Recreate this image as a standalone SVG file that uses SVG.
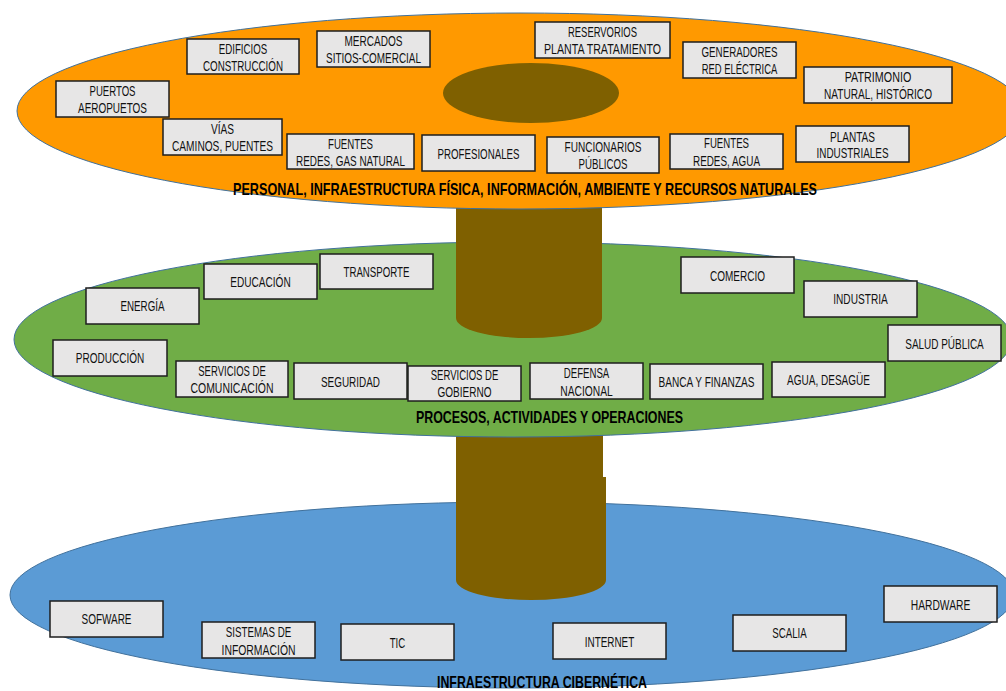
<svg xmlns="http://www.w3.org/2000/svg" width="1006" height="691" viewBox="0 0 1006 691">
<style>
.layer{stroke:#41719C;stroke-width:1}
.col{fill:#7F6000}
.box rect{fill:#E7E6E6;stroke:#1E1E1E;stroke-width:1.5}
.box text{font-family:"Liberation Sans","DejaVu Sans",sans-serif;font-size:14px;fill:#111;text-anchor:middle}
.title{font-family:"Liberation Sans","DejaVu Sans",sans-serif;font-size:16.5px;font-weight:bold;fill:#000;text-anchor:middle}
</style>
<rect width="1006" height="691" fill="#FFFFFF"/>
<g id="layers">
<ellipse id="layer-cyber" class="layer" cx="512" cy="595" rx="502" ry="93" fill="#5B9BD5"/>
<path id="column-lower" class="col" d="M456,430 L456,580 A75,20 0 0 0 606,580 L606,477 L603,477 L603,430 Z"/>
<ellipse id="layer-process" class="layer" cx="513" cy="339.5" rx="499" ry="97.5" fill="#70AD47"/>
<path id="column-upper" class="col" d="M456,100 L456,318 A73,20 0 0 0 602,318 L602,100 Z"/>
<ellipse id="layer-physical" class="layer" cx="520" cy="111" rx="503" ry="98" fill="#FF9900"/>
<ellipse id="column-top" class="col" cx="531" cy="93" rx="88" ry="30"/>
</g>
<g id="connectors"></g>
<g id="n-puertos" class="box"><rect x="56" y="81" width="113" height="36"/><text x="112.5" y="95.5" textLength="46" lengthAdjust="spacingAndGlyphs">PUERTOS</text><text x="112.5" y="113" textLength="69" lengthAdjust="spacingAndGlyphs">AEROPUETOS</text></g>
<g id="n-edificios" class="box"><rect x="187" y="39" width="112" height="35"/><text x="243" y="53.5" textLength="48.5" lengthAdjust="spacingAndGlyphs">EDIFICIOS</text><text x="243" y="71" textLength="80" lengthAdjust="spacingAndGlyphs">CONSTRUCCIÓN</text></g>
<g id="n-mercados" class="box"><rect x="317" y="31" width="113" height="36"/><text x="373.5" y="45.5" textLength="58" lengthAdjust="spacingAndGlyphs">MERCADOS</text><text x="373.5" y="63" textLength="95" lengthAdjust="spacingAndGlyphs">SITIOS-COMERCIAL</text></g>
<g id="n-vias" class="box"><rect x="163" y="119" width="119" height="36"/><text x="222.5" y="133.5" textLength="23" lengthAdjust="spacingAndGlyphs">VÍAS</text><text x="222.5" y="151" textLength="101" lengthAdjust="spacingAndGlyphs">CAMINOS, PUENTES</text></g>
<g id="n-fuentes-gas" class="box"><rect x="287" y="134" width="127" height="35"/><text x="350.5" y="148.5" textLength="45" lengthAdjust="spacingAndGlyphs">FUENTES</text><text x="350.5" y="166" textLength="109" lengthAdjust="spacingAndGlyphs">REDES, GAS NATURAL</text></g>
<g id="n-profesionales" class="box"><rect x="422" y="135" width="113" height="36"/><text x="478.5" y="159" textLength="82" lengthAdjust="spacingAndGlyphs">PROFESIONALES</text></g>
<g id="n-reservorios" class="box"><rect x="535" y="22" width="135" height="36"/><text x="602.5" y="37" textLength="69" lengthAdjust="spacingAndGlyphs">RESERVORIOS</text><text x="602.5" y="54" textLength="117" lengthAdjust="spacingAndGlyphs">PLANTA TRATAMIENTO</text></g>
<g id="n-generadores" class="box"><rect x="683" y="42" width="113" height="36"/><text x="739.5" y="57" textLength="76" lengthAdjust="spacingAndGlyphs">GENERADORES</text><text x="739.5" y="74" textLength="75.5" lengthAdjust="spacingAndGlyphs">RED ELÉCTRICA</text></g>
<g id="n-patrimonio" class="box"><rect x="804" y="67" width="148" height="36"/><text x="878" y="82" textLength="66.5" lengthAdjust="spacingAndGlyphs">PATRIMONIO</text><text x="878" y="99" textLength="108" lengthAdjust="spacingAndGlyphs">NATURAL, HISTÓRICO</text></g>
<g id="n-funcionarios" class="box"><rect x="547" y="137" width="112" height="36"/><text x="603" y="152" textLength="77" lengthAdjust="spacingAndGlyphs">FUNCIONARIOS</text><text x="603" y="169" textLength="49" lengthAdjust="spacingAndGlyphs">PÚBLICOS</text></g>
<g id="n-fuentes-agua" class="box"><rect x="670" y="134" width="113" height="35"/><text x="726.5" y="148" textLength="45" lengthAdjust="spacingAndGlyphs">FUENTES</text><text x="726.5" y="166" textLength="67" lengthAdjust="spacingAndGlyphs">REDES, AGUA</text></g>
<g id="n-plantas" class="box"><rect x="796" y="126" width="113" height="36"/><text x="852.5" y="142" textLength="45" lengthAdjust="spacingAndGlyphs">PLANTAS</text><text x="852.5" y="158" textLength="72" lengthAdjust="spacingAndGlyphs">INDUSTRIALES</text></g>
<g id="n-energia" class="box"><rect x="86" y="288" width="113" height="36"/><text x="142.5" y="311" textLength="44" lengthAdjust="spacingAndGlyphs">ENERGÍA</text></g>
<g id="n-educacion" class="box"><rect x="204" y="264" width="113" height="35"/><text x="260.5" y="287" textLength="60.5" lengthAdjust="spacingAndGlyphs">EDUCACIÓN</text></g>
<g id="n-transporte" class="box"><rect x="320" y="254" width="113" height="35"/><text x="376.5" y="277" textLength="66" lengthAdjust="spacingAndGlyphs">TRANSPORTE</text></g>
<g id="n-produccion" class="box"><rect x="53" y="340" width="114" height="36"/><text x="110" y="363" textLength="68.5" lengthAdjust="spacingAndGlyphs">PRODUCCIÓN</text></g>
<g id="n-serv-com" class="box"><rect x="176" y="361" width="112" height="36"/><text x="232" y="376" textLength="67.5" lengthAdjust="spacingAndGlyphs">SERVICIOS DE</text><text x="232" y="393" textLength="83" lengthAdjust="spacingAndGlyphs">COMUNICACIÓN</text></g>
<g id="n-seguridad" class="box"><rect x="294" y="363" width="113" height="36"/><text x="350.5" y="387" textLength="59" lengthAdjust="spacingAndGlyphs">SEGURIDAD</text></g>
<g id="n-serv-gob" class="box"><rect x="408" y="366" width="113" height="35"/><text x="464.5" y="380" textLength="67.5" lengthAdjust="spacingAndGlyphs">SERVICIOS DE</text><text x="464.5" y="397" textLength="54" lengthAdjust="spacingAndGlyphs">GOBIERNO</text></g>
<g id="n-defensa" class="box"><rect x="530" y="363" width="113" height="36"/><text x="586.5" y="378" textLength="45.5" lengthAdjust="spacingAndGlyphs">DEFENSA</text><text x="586.5" y="396" textLength="52.5" lengthAdjust="spacingAndGlyphs">NACIONAL</text></g>
<g id="n-banca" class="box"><rect x="650" y="364" width="113" height="35"/><text x="706.5" y="387" textLength="96" lengthAdjust="spacingAndGlyphs">BANCA Y FINANZAS</text></g>
<g id="n-agua" class="box"><rect x="772" y="362" width="113" height="35"/><text x="828.5" y="385" textLength="83" lengthAdjust="spacingAndGlyphs">AGUA, DESAGÜE</text></g>
<g id="n-salud" class="box"><rect x="888" y="325" width="113" height="36"/><text x="944.5" y="349" textLength="78.5" lengthAdjust="spacingAndGlyphs">SALUD PÚBLICA</text></g>
<g id="n-comercio" class="box"><rect x="681" y="257" width="113" height="36"/><text x="737.5" y="281" textLength="55" lengthAdjust="spacingAndGlyphs">COMERCIO</text></g>
<g id="n-industria" class="box"><rect x="804" y="281" width="113" height="36"/><text x="860.5" y="304" textLength="54.5" lengthAdjust="spacingAndGlyphs">INDUSTRIA</text></g>
<g id="n-sofware" class="box"><rect x="50" y="601" width="113" height="36"/><text x="106.5" y="624" textLength="50" lengthAdjust="spacingAndGlyphs">SOFWARE</text></g>
<g id="n-sistemas" class="box"><rect x="202" y="622" width="113" height="36"/><text x="258.5" y="637" textLength="65.5" lengthAdjust="spacingAndGlyphs">SISTEMAS DE</text><text x="258.5" y="655" textLength="74" lengthAdjust="spacingAndGlyphs">INFORMACIÓN</text></g>
<g id="n-tic" class="box"><rect x="341" y="624" width="113" height="36"/><text x="397.5" y="648" textLength="15.5" lengthAdjust="spacingAndGlyphs">TIC</text></g>
<g id="n-internet" class="box"><rect x="553" y="623" width="113" height="36"/><text x="609.5" y="647" textLength="49.5" lengthAdjust="spacingAndGlyphs">INTERNET</text></g>
<g id="n-scalia" class="box"><rect x="733" y="615" width="113" height="36"/><text x="789.5" y="638" textLength="34.5" lengthAdjust="spacingAndGlyphs">SCALIA</text></g>
<g id="n-hardware" class="box"><rect x="884" y="586" width="113" height="36"/><text x="940.5" y="610" textLength="59.5" lengthAdjust="spacingAndGlyphs">HARDWARE</text></g>
<g id="titles">
<text class="title" x="525" y="195" textLength="584" lengthAdjust="spacingAndGlyphs">PERSONAL, INFRAESTRUCTURA FÍSICA, INFORMACIÓN, AMBIENTE Y RECURSOS NATURALES</text>
<text class="title" x="549.5" y="423" textLength="267" lengthAdjust="spacingAndGlyphs">PROCESOS, ACTIVIDADES Y OPERACIONES</text>
<text class="title" x="542" y="688" textLength="210" lengthAdjust="spacingAndGlyphs">INFRAESTRUCTURA CIBERNÉTICA</text>
</g>
</svg>
